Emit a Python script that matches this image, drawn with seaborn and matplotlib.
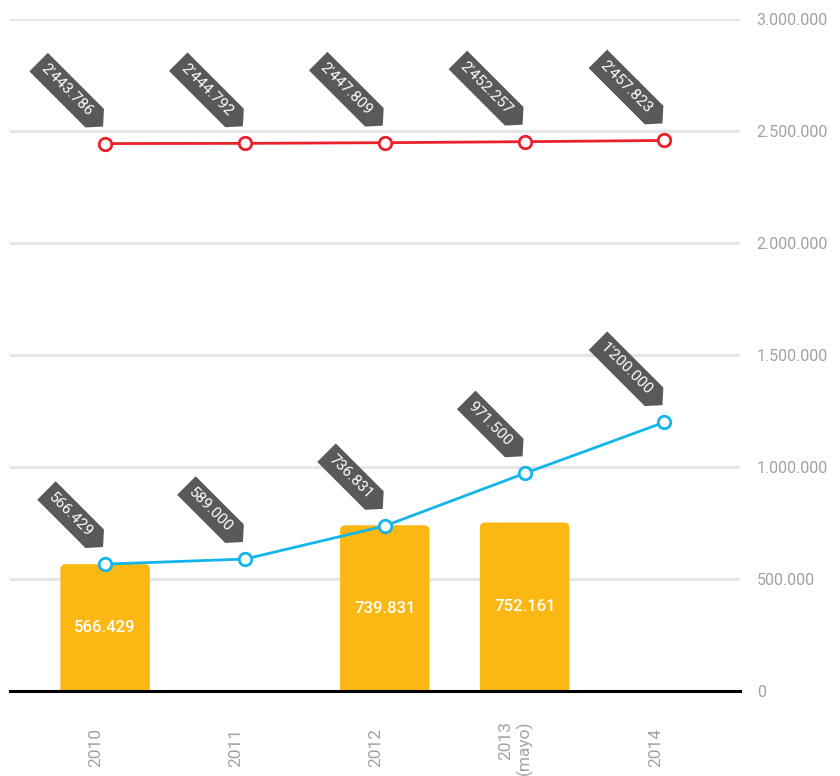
import numpy as np
import pandas as pd
import seaborn as sns
import matplotlib.pyplot as plt
from matplotlib.patches import FancyBboxPatch
from matplotlib.path import Path
from matplotlib.font_manager import FontProperties
from matplotlib.ticker import FuncFormatter
from matplotlib.transforms import ScaledTranslation

# --- data -------------------------------------------------------------
years = ["2010", "2011", "2012", "2013", "2014"]
year_labels = ["2010", "2011", "2012", "2013\n(mayo)", "2014"]
bar_values = [566429, np.nan, 739831, 752161, np.nan]
red_values = [2443786, 2444792, 2447809, 2452257, 2457823]
blue_values = [566429, 589000, 736831, 971500, 1200000]
y_ticks = [0, 500000, 1000000, 1500000, 2000000, 2500000, 3000000]

# --- style ------------------------------------------------------------
BAR = "#FBB813"
RED = "#E8212B"
BLUE = "#13B5EA"
TAG = "#58595B"
GRID = "#E6E6E6"
TICK = "#A2A2A2"
TAG_SIZE = 11
PAD = 0.4       # tag padding, in units of font size
HEAD = 0.45     # tag point length, in units of tag height

sns.set_theme(style="white")
plt.rcParams["font.family"] = ["Roboto", "DejaVu Sans"]


def dots(v):
    return f"{int(round(v)):,}".replace(",", ".")


def tag_text(v):
    s = dots(v)
    parts = s.split(".")
    if len(parts) > 2:
        return parts[0] + "'" + ".".join(parts[1:])
    return s


def tag_box(x0, y0, width, height, mutation_size):
    pad = PAD * mutation_size
    x0, y0 = x0 - pad, y0 - pad
    x1, y1 = x0 + width + 2 * pad, y0 + height + 2 * pad
    h = y1 - y0
    verts = [(x0, y0), (x1, y0), (x1 + HEAD * h, y0 + h / 2), (x1, y1),
             (x0, y1), (x0, y0)]
    codes = [Path.MOVETO] + [Path.LINETO] * 4 + [Path.CLOSEPOLY]
    return Path(verts, codes)


fig = plt.figure(figsize=(8.4, 7.76), dpi=100)
ax = fig.add_axes([10 / 840, 85 / 776, 730 / 840, 672 / 776])

df = pd.DataFrame({"year": years, "bars": bar_values,
                   "red": red_values, "blue": blue_values})
pos = np.arange(len(years))

sns.barplot(data=df, x="year", y="bars", order=years, color=BAR,
            width=0.64, saturation=1, ax=ax, zorder=2)

# soften the top corners of the bars and write the value inside
for p in list(ax.patches):
    x, w, h = p.get_x(), p.get_width(), p.get_height()
    p.remove()
    if not np.isfinite(h) or h == 0:
        continue
    r = FancyBboxPatch((x, -60000), w, h + 60000,
                       boxstyle="round,pad=0,rounding_size=0.04",
                       mutation_aspect=560000, facecolor=BAR,
                       edgecolor="none", zorder=2)
    ax.add_patch(r)
    ax.text(x + w / 2, h / 2, dots(h), color="white", fontsize=12,
            fontweight="medium", ha="center", va="center", zorder=3)

line_kw = dict(marker="o", markersize=9, markerfacecolor="white",
               markeredgewidth=2, linewidth=2, zorder=4)
sns.lineplot(x=pos, y=df["red"], color=RED, markeredgecolor=RED, ax=ax,
             **line_kw)
sns.lineplot(x=pos, y=df["blue"], color=BLUE, markeredgecolor=BLUE, ax=ax,
             **line_kw)

# value tags: the point of each tag sits just above its marker
renderer = fig.canvas.get_renderer()
fp = FontProperties(family=["Roboto", "DejaVu Sans"], size=TAG_SIZE)
px_per_pt = fig.dpi / 72
ang = np.deg2rad(-45)
u = np.array([np.cos(ang), np.sin(ang)])
tip = np.array([-3.0, 18.0])  # pixels from the marker
for series in (red_values, blue_values):
    for xi, v in zip(pos, series):
        s = tag_text(v)
        tw, th, _ = renderer.get_text_width_height_descent(s, fp, ismath=False)
        pad = PAD * TAG_SIZE * px_per_pt
        box_h = th + 2 * pad
        dist = tw / 2 + pad + HEAD * box_h
        c = tip - u * dist
        ax.annotate(s, (xi, v), xytext=(c[0] / px_per_pt, c[1] / px_per_pt),
                    textcoords="offset points", rotation=-45,
                    ha="center", va="center", fontproperties=fp,
                    color="white", zorder=5,
                    bbox=dict(boxstyle=tag_box, facecolor=TAG,
                              edgecolor="none"))

ax.set_xlim(-0.68, 4.54)
ax.set_ylim(0, 3000000)
ax.set_yticks(y_ticks)
ax.yaxis.set_major_formatter(FuncFormatter(lambda v, _: dots(v)))
ax.yaxis.tick_right()
ax.tick_params(axis="y", length=0, pad=12, labelcolor=TICK, labelsize=11.5)
ax.grid(axis="y", color=GRID, linewidth=2.2, zorder=0)
ax.set_axisbelow(True)

ax.set_xticks(pos)
ax.set_xticklabels(year_labels, rotation=90, ha="center", va="center",
                   multialignment="right", color=TICK, fontsize=12.5)
ax.tick_params(axis="x", length=0, pad=41)
offset = ScaledTranslation(-9 / 100, 0, fig.dpi_scale_trans)
for lab in ax.get_xticklabels():
    lab.set_transform(lab.get_transform() + offset)

ax.set_xlabel("")
ax.set_ylabel("")
for side in ("left", "right", "top"):
    ax.spines[side].set_visible(False)
ax.spines["bottom"].set_color("black")
ax.spines["bottom"].set_linewidth(2.2)
ax.spines["bottom"].set_zorder(3)

fig.savefig("out.png", dpi=100)
